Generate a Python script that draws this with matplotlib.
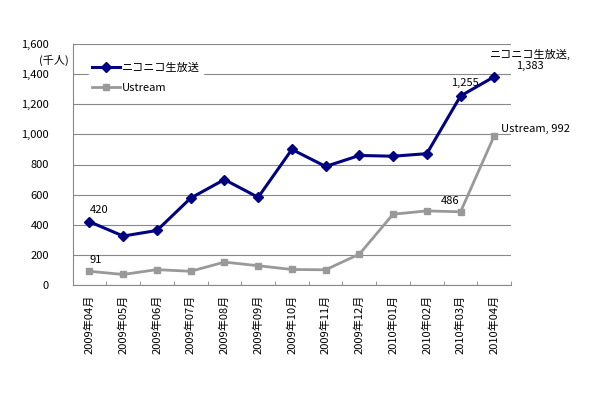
import numpy as np
import matplotlib
matplotlib.use("Agg")
import matplotlib.pyplot as plt

plt.rcParams['font.family'] = ['Noto Sans CJK JP', 'DejaVu Sans']

months = ["2009年04月", "2009年05月", "2009年06月", "2009年07月", "2009年08月",
          "2009年09月", "2009年10月", "2009年11月", "2009年12月", "2010年01月",
          "2010年02月", "2010年03月", "2010年04月"]
nico = [420, 325, 362, 577, 700, 582, 900, 787, 860, 855, 872, 1255, 1383]
ustream = [91, 70, 102, 91, 152, 128, 103, 101, 205, 470, 492, 486, 992]

x = np.arange(len(months))
fs = 8

fig = plt.figure(figsize=(6.1, 4.0), dpi=100)
ax = fig.add_axes([0.119, 0.2875, 0.719, 0.6025])

ax.plot(x, nico, color='#000080', lw=2.2, marker='D', ms=5, label='ニコニコ生放送', zorder=3)
ax.plot(x, ustream, color='#999999', lw=2.0, marker='s', ms=4.5, label='Ustream', zorder=2)

ax.set_xlim(-0.5, len(months) - 0.5)
ax.set_ylim(0, 1600)
ax.set_yticks(np.arange(0, 1601, 200))
ax.set_yticklabels([f"{v:,}" for v in range(0, 1601, 200)], fontsize=fs)
ax.yaxis.grid(True, color='#888888', lw=0.8)
ax.set_axisbelow(True)
ax.tick_params(axis='y', length=0, pad=17)

ax.set_xticks(x)
ax.set_xticklabels(months, rotation=90, fontsize=fs)
ax.tick_params(axis='x', length=0, pad=7)
ax.set_xticks(np.arange(-0.5, len(months)), minor=True)
ax.tick_params(axis='x', which='minor', direction='in', length=3, color='#888888')

for s in ['top', 'right']:
    ax.spines[s].set_visible(False)
for s in ['left', 'bottom']:
    ax.spines[s].set_color('#888888')

fig.text(39 / 610, 1 - 60 / 400, '(千人)', fontsize=fs, ha='left', va='center')

ax.annotate(f"{nico[0]}", (x[0], nico[0]), xytext=(0, 12), textcoords='offset pixels',
            fontsize=fs, ha='left', va='center')
ax.annotate(f"{ustream[0]}", (x[0], ustream[0]), xytext=(0, 11), textcoords='offset pixels',
            fontsize=fs, ha='left', va='center')
ax.annotate(f"{nico[11]:,}", (x[11], nico[11]), xytext=(-9, 13), textcoords='offset pixels',
            fontsize=fs, ha='left', va='center')
ax.annotate(f"{ustream[11]}", (x[11], ustream[11]), xytext=(-1, 11), textcoords='offset pixels',
            fontsize=fs, ha='right', va='center')
ax.annotate(f"ニコニコ生放送,\n{nico[12]:,}", (x[12], nico[12]), xytext=(36, 17), textcoords='offset pixels',
            fontsize=fs, ha='center', va='center', multialignment='center', annotation_clip=False,
            linespacing=1.1)
ax.annotate(f"Ustream, {ustream[12]}", (x[12], ustream[12]), xytext=(7, 7), textcoords='offset pixels',
            fontsize=fs, ha='left', va='center', annotation_clip=False)

leg = ax.legend(loc='upper left', bbox_to_anchor=(0.037, 0.938), frameon=True, fontsize=fs,
                handlelength=2.5, handletextpad=0.2, labelspacing=0.95, borderpad=0.3,
                borderaxespad=0)
leg.get_frame().set_edgecolor('white')
leg.get_frame().set_facecolor('white')
leg.get_frame().set_alpha(1)
leg.get_frame().set_boxstyle('square', pad=0)

fig.savefig('out.png', dpi=100)
